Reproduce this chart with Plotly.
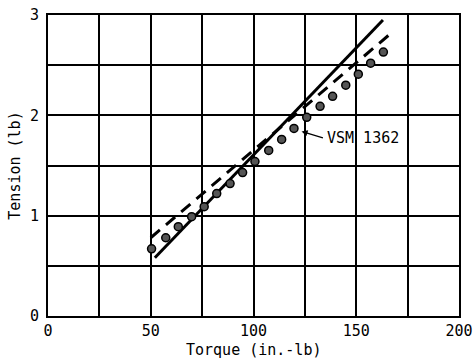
import plotly.graph_objects as go

# Measured tension vs. torque (VSM 1362 points)
torque_pts = [50.4, 57.3, 63.4, 69.9, 76.0, 82.1, 88.6, 94.7, 100.7, 107.4,
              113.7, 119.7, 125.9, 132.4, 138.5, 144.9, 151.0, 157.0, 163.2]
tension_pts = [0.67, 0.78, 0.89, 0.99, 1.09, 1.22, 1.32, 1.43, 1.54, 1.65,
               1.76, 1.87, 1.98, 2.09, 2.19, 2.30, 2.41, 2.52, 2.63]

# Reference lines (end points)
solid_x = [52, 163]
solid_y = [0.58, 2.95]
dash_x = [50, 167]
dash_y = [0.78, 2.82]

FONT = "DejaVu Sans Mono"

fig = go.Figure()
fig.add_trace(go.Scatter(x=solid_x, y=solid_y, mode="lines",
                         line=dict(color="black", width=3), showlegend=False))
fig.add_trace(go.Scatter(x=dash_x, y=dash_y, mode="lines",
                         line=dict(color="black", width=3, dash="12px,8px"),
                         showlegend=False))
fig.add_trace(go.Scatter(x=torque_pts, y=tension_pts, mode="markers",
                         marker=dict(size=8, color="#555555",
                                     line=dict(color="black", width=1.5)),
                         showlegend=False))

fig.add_annotation(x=123.4, y=1.84, ax=134.5, ay=1.77, axref="x", ayref="y",
                   text="", showarrow=True, arrowhead=2, arrowsize=1,
                   arrowwidth=1.2, arrowcolor="black")
fig.add_annotation(x=135, y=1.77, text="VSM 1362", showarrow=False,
                   xanchor="left", yanchor="middle",
                   font=dict(family=FONT, size=15, color="black"))

# x-axis title placed just under the tick labels
fig.add_annotation(x=0.5, y=-0.113, xref="paper", yref="paper",
                   text="Torque (in.-lb)", showarrow=False,
                   xanchor="center", yanchor="middle",
                   font=dict(family=FONT, size=15, color="black"))

fig.update_xaxes(range=[0, 200], dtick=50, tick0=0, showgrid=True,
                 gridcolor="black", gridwidth=2, automargin=False,
                 minor=dict(dtick=25, showgrid=True, gridcolor="black", gridwidth=2),
                 showline=True, linecolor="black", linewidth=2, mirror=True,
                 zeroline=False, ticks="",
                 tickfont=dict(family=FONT, size=15, color="black"))
fig.update_yaxes(range=[0, 3], dtick=1, tick0=0, showgrid=True,
                 gridcolor="black", gridwidth=2, automargin=False,
                 minor=dict(dtick=0.5, showgrid=True, gridcolor="black", gridwidth=2),
                 showline=True, linecolor="black", linewidth=2, mirror=True,
                 zeroline=False, ticks="", ticklabelstandoff=4,
                 tickfont=dict(family=FONT, size=15, color="black"),
                 title=dict(text="Tension (lb)", standoff=6,
                            font=dict(family=FONT, size=15, color="black")))

fig.update_layout(width=473, height=360,
                  margin=dict(l=48, r=14, t=15, b=44),
                  paper_bgcolor="white", plot_bgcolor="white")

fig.write_html("out.html")
